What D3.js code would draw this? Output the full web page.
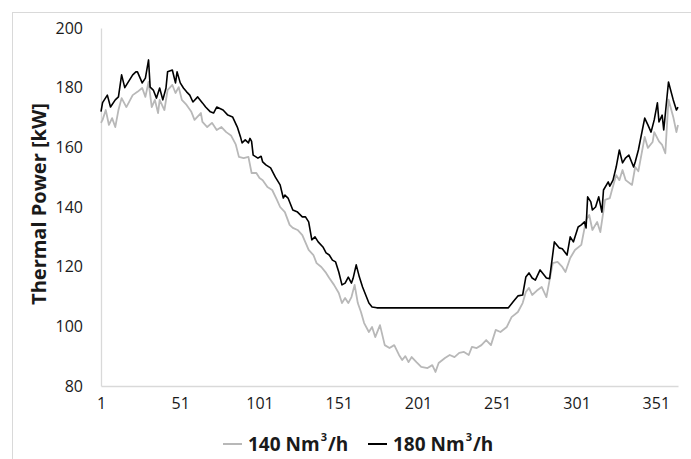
<!DOCTYPE html>
<html>
<head>
<meta charset="utf-8">
<script src="https://cdn.jsdelivr.net/npm/d3@7"></script>
<style>
  body { margin: 0; background: #fff; }
  svg { display: block; }
  text { font-family: "Open Sans", "Noto Sans", sans-serif; fill: #1a1a1a; }
</style>
</head>
<body>
<svg id="chart" width="691" height="459"></svg>
<script>
// day of year -> thermal power [kW] at visible turning points
const days180 = [1,2,5,7,10,12,14,16,21,23,24,27,29,31,32,34,36,38,40,42,43,46,48,49,51,53,55,57,59,62,65,67,70,72,74,78,81,84,87,89,90,92,94,95,96,97,
  100,102,103,105,108,111,114,116,117,119,120,122,125,128,130,132,134,136,138,141,143,145,147,149,151,153,155,157,159,160,162,164,166,168,170,172,
  175,200,225,250,258,261,264,267,269,271,273,275,278,282,284,287,290,292,295,297,299,302,304,306,307,308,310,311,313,315,317,318,321,
  322,324,326,328,330,332,334,337,338,340,344,346,348,350,352,353,355,356,359,362,364,365];
const vals180 = [172,175,177.5,173.5,175.9,176.9,184.3,180,184.3,185.3,185.3,181.6,183.2,189.3,180.2,179.2,176.5,179.9,175.9,179.9,185.3,185.9,181.6,185.3,181.6,179.9,178.6,177.5,175.2,176.9,174.9,173.5,171.9,171.5,173.5,172.5,170.8,170.2,166.8,163.5,161.5,162.5,161.5,163,162,157.4,
  156.4,157,155.1,154.1,153.1,150,147.4,143,144,143,141.7,139,138.3,136.7,136.7,135,129,130,128.3,126.6,124.6,123.9,122.2,121.6,118.2,113.9,114.5,116.5,114.5,116,120.6,116.5,113.2,110.5,107.8,106.5,
  106.2,106.2,106.2,106.2,106.2,108.2,110.2,110.5,116.5,117.9,116.2,115.5,118.9,116.2,116,128.3,126.3,126,123.9,130,128.3,133.3,134,135,133,143.4,141.7,139,140,143.4,138.3,145.7,148.4,
  147,149,153.4,159.1,154.8,156.5,157.4,153.4,155.1,159.1,169.8,167.5,165.1,169.2,174.9,168.5,170.8,165.8,181.9,175.9,172.5,173.5];

const days140 = [1,2,4,6,8,10,12,14,17,21,24,27,29,31,33,35,37,38,41,43,46,48,50,52,55,58,60,64,65,68,71,74,77,80,83,86,88,91,94,96,99,
  101,103,106,109,112,114,117,120,122,125,128,132,135,137,140,143,145,148,151,153,155,157,159,161,163,165,167,170,172,174,177,180,183,186,
  189,191,193,195,197,200,203,207,210,212,214,218,221,224,227,230,233,235,238,241,244,247,250,253,257,260,264,267,269,271,273,276,279,282,
  286,289,292,294,297,300,304,307,309,311,314,316,319,322,323,326,328,330,332,336,338,340,344,346,349,350,353,355,357,359,362,364,365];
const vals140 = [168.2,169.2,172.5,167.5,169.8,166.8,172.5,176.5,173.5,177.5,178.6,179.9,176.9,181.9,173.5,175.9,171.5,175.9,172.5,179.2,180.9,178.2,180.2,175.9,174.2,171.9,169.2,171.5,168.5,166.8,168.2,165.8,166.8,165.1,164,161,156.8,156.4,156.8,151.4,151.4,
  149.7,149,146.7,145.7,142.4,140,138.3,134,133,132.3,130.6,125.6,123.9,121.2,119.9,117.9,116.2,113.9,111.2,107.8,109.5,107.8,109.8,113.9,107.8,104.8,101.1,98.1,99.8,96.4,100.4,93.7,92.7,93.7,
  90.4,88.7,90,88,89.7,88,86.4,86,87,84.7,87.7,89.4,90.4,89.7,91.1,91.4,90.4,93.1,92.7,93.7,95.4,93.7,98.8,98.1,99.8,103.1,104.8,107.8,111.5,112.9,110.5,112,113.2,109.8,
  121.2,121.6,119.9,118.2,122.9,125.6,127.3,135.6,137.3,132.3,135,131.6,142.4,143,145,150.7,149,152.4,149,147.4,153.4,152,163.5,159.8,161.8,165.1,162,160.8,158,176,170.2,165.1,167.5];

const xTicks = [1,51,101,151,201,251,301,351];
const yTicks = [80,100,120,140,160,180,200];
const seriesNames = ["140", "180"];

const svg = d3.select("#chart");

// chart area border
svg.append("rect")
  .attr("x",12.5).attr("y",12.5).attr("width",720).attr("height",520)
  .attr("fill","none").attr("stroke","#d9d9d9").attr("stroke-width",1);

let x = d3.scaleLinear().domain([1,365]).range([101,678]);
let y = d3.scaleLinear().domain([80,200]).range([386,28]);

// axes (lines only, no tick marks)
let xAxis = svg.append("g").attr("transform","translate(0,386)")
  .call(d3.axisBottom(x).tickValues(xTicks).tickSize(0).tickPadding(12).tickFormat(d3.format("d")));
let yAxis = svg.append("g").attr("transform","translate(101,0)")
  .call(d3.axisLeft(y).tickValues(yTicks).tickSize(0).tickPadding(18));

[xAxis,yAxis].forEach(function(g){
  g.select(".domain").attr("stroke","#d9d9d9").attr("stroke-width",1.3);
  g.selectAll("text").attr("font-size",16).attr("fill","#1a1a1a")
    .attr("font-family","'Open Sans', sans-serif");
});

svg.append("text")
  .attr("transform","translate(46,204) rotate(-90)")
  .attr("text-anchor","middle")
  .attr("font-size",20).attr("font-weight","bold")
  .text("Thermal Power [kW]");

let line = d3.line().x(function(d){return x(d[0]);}).y(function(d){return y(d[1]);});

svg.append("path")
  .datum(d3.zip(days140,vals140))
  .attr("fill","none").attr("stroke","#b8b8b8").attr("stroke-width",1.8)
  .attr("stroke-linejoin","round")
  .attr("d",line);

svg.append("path")
  .datum(d3.zip(days180,vals180))
  .attr("fill","none").attr("stroke","#000").attr("stroke-width",1.6)
  .attr("stroke-linejoin","round")
  .attr("d",line);

// legend: sample line, then "NNN Nm", superscript 3, "/h" as separate texts
let legend = [
  {name:seriesNames[0], color:"#b8b8b8", x0:223},
  {name:seriesNames[1], color:"#000", x0:368}
];
legend.forEach(function(l){
  svg.append("line")
    .attr("x1",l.x0).attr("x2",l.x0+19).attr("y1",444).attr("y2",444)
    .attr("stroke",l.color).attr("stroke-width",2);
  let tx = l.x0+25;
  let t1 = svg.append("text").attr("x",tx).attr("y",451)
    .attr("font-size",19).attr("font-weight","bold").text(l.name+" Nm");
  tx += t1.node().getComputedTextLength()+1;
  let t2 = svg.append("text").attr("x",tx).attr("y",441)
    .attr("font-size",11).attr("font-weight","bold").text("3");
  tx += t2.node().getComputedTextLength()+1;
  svg.append("text").attr("x",tx).attr("y",451)
    .attr("font-size",19).attr("font-weight","bold").text("/h");
});
</script>
</body>
</html>
